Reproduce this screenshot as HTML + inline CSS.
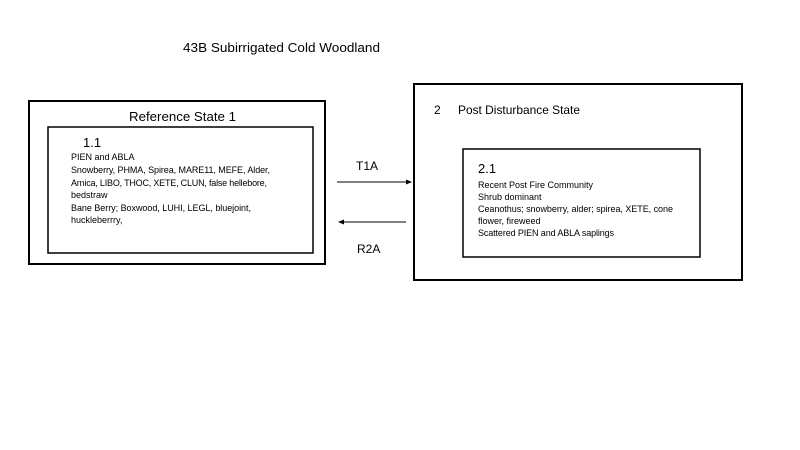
<!DOCTYPE html>
<html><head><meta charset="utf-8"><style>
html,body{margin:0;padding:0;background:#fff;}
svg{display:block;font-family:"Liberation Sans",sans-serif;}
</style></head><body>
<svg width="800" height="450" viewBox="0 0 800 450" xmlns="http://www.w3.org/2000/svg">
<rect width="800" height="450" fill="#fff"/>
<text x="183" y="52" font-size="13" textLength="197" lengthAdjust="spacingAndGlyphs">43B Subirrigated Cold Woodland</text>
<rect x="29" y="101" width="296" height="163" fill="none" stroke="#000" stroke-width="2"/>
<text x="129" y="121" font-size="13" textLength="107" lengthAdjust="spacingAndGlyphs">Reference State 1</text>
<rect x="48" y="127" width="265" height="126" fill="none" stroke="#000" stroke-width="1.5"/>
<text x="83" y="147" font-size="13">1.1</text>
<g font-size="9" lengthAdjust="spacingAndGlyphs">
<text x="71" y="160">PIEN and ABLA</text>
<text x="71" y="173" textLength="199">Snowberry, PHMA, Spirea, MARE11, MEFE, Alder,</text>
<text x="71" y="186" textLength="196">Arnica, LIBO, THOC, XETE, CLUN, false hellebore,</text>
<text x="71" y="198">bedstraw</text>
<text x="71" y="211" textLength="180">Bane Berry; Boxwood, LUHI, LEGL, bluejoint,</text>
<text x="71" y="223">huckleberrry,</text>
</g>
<text x="356" y="170" font-size="12">T1A</text>
<line x1="337" y1="182" x2="408" y2="182" stroke="#000" stroke-width="1"/>
<polygon points="412,182 406,179.5 406,184.5" fill="#000"/>
<line x1="342" y1="222" x2="406" y2="222" stroke="#000" stroke-width="1"/>
<polygon points="338,222 344,219.5 344,224.5" fill="#000"/>
<text x="357" y="253" font-size="12">R2A</text>
<rect x="414" y="84" width="328" height="196" fill="none" stroke="#000" stroke-width="2"/>
<text x="434" y="114" font-size="12">2</text>
<text x="458" y="114" font-size="12" textLength="122" lengthAdjust="spacingAndGlyphs">Post Disturbance State</text>
<rect x="463" y="149" width="237" height="108" fill="none" stroke="#000" stroke-width="1.5"/>
<text x="478" y="173" font-size="13">2.1</text>
<g font-size="9" lengthAdjust="spacingAndGlyphs">
<text x="478" y="188" textLength="115">Recent Post Fire Community</text>
<text x="478" y="200">Shrub dominant</text>
<text x="478" y="212" textLength="195">Ceanothus; snowberry, alder; spirea, XETE, cone</text>
<text x="478" y="224">flower, fireweed</text>
<text x="478" y="236" textLength="136">Scattered PIEN and ABLA saplings</text>
</g>
</svg>
</body></html>
